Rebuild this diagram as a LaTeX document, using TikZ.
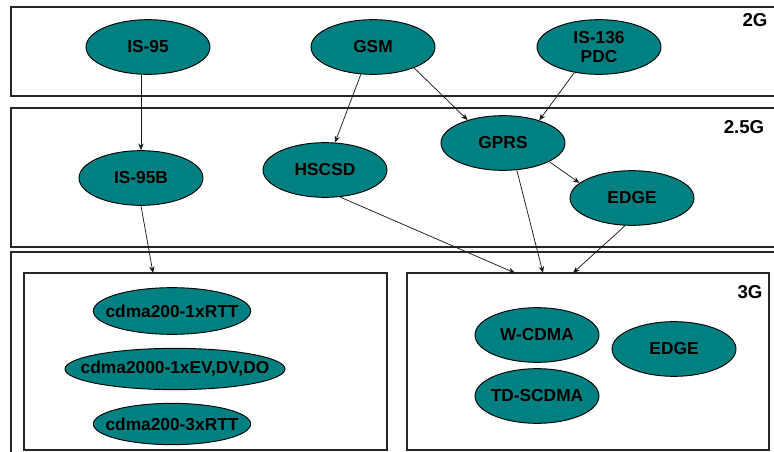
\documentclass[tikz,border=0pt]{standalone}
\usepackage{fontspec}
\setmainfont{Liberation Sans}
\usepackage{xcolor}
\usetikzlibrary{shapes.geometric,arrows.meta}

\definecolor{gsmteal}{RGB}{0,128,128}

\tikzset{
  tech/.style={ellipse, draw=black, fill=gsmteal, line width=0.7pt, inner xsep=-24pt, inner ysep=0pt,
    minimum width=93pt, minimum height=41pt, align=center, font=\fontsize{13}{14}\selectfont\bfseries},
  cdma/.style={tech, minimum width=118pt, minimum height=33pt},
  genbox/.style={draw=black!85, line width=0.9pt},
  genlabel/.style={inner sep=0.75pt, font=\fontsize{14}{15}\selectfont\bfseries},
  link/.style={draw=black!90, line width=0.55pt, -{Stealth[length=5pt,width=4pt]}}
}

\begin{document}
\begin{tikzpicture}[x=0.75pt,y=0.75pt,yscale=-1,xscale=1]
\clip (0,0) rectangle (774,452);

%Shape: Rectangle 2G
\draw [genbox] (11,7) rectangle (790,96) ;
%Shape: Rectangle 2.5G
\draw [genbox] (11,108) rectangle (790,247) ;
%Shape: Rectangle 3G outer
\draw [genbox] (11,252) rectangle (790,470) ;
%Shape: Rectangle cdma
\draw [genbox] (24,273) rectangle (387,450) ;
%Shape: Rectangle 3G
\draw [genbox] (407,273) rectangle (769,450) ;

% Text Node
\node [genlabel] (lab2g) at (755,20) {2G};
% Text Node
\node [genlabel] (lab25g) at (744,127) {2.5G};
% Text Node
\node [genlabel] (lab3g) at (750,292) {3G};

%Ellipses 2G
\node [tech] (is95) at (148,47) {IS-95};
\node [tech] (gsm) at (373,47) {GSM};
\node [tech] (is136) at (599,47) {IS-136\\PDC};
%Ellipses 2.5G
\node [tech] (is95b) at (141,178) {IS-95B};
\node [tech] (hscsd) at (325,170) {HSCSD};
\node [tech] (gprs) at (503,143) {GPRS};
\node [tech] (edge) at (632,198) {EDGE};
%Ellipses cdma
\node [cdma, minimum height=35pt] (rtt1) at (172,311) {cdma200-1xRTT};
\node [cdma, minimum width=165pt, minimum height=31pt] (evdo) at (175,369) {cdma2000-1xEV,DV,DO};
\node [cdma, minimum height=31pt] (rtt3) at (172,424) {cdma200-3xRTT};
%Ellipses 3G
\node [tech] (wcdma) at (537,335) {W-CDMA};
\node [tech] (tdscdma) at (537,396) {TD-SCDMA};
\node [tech] (edge3g) at (674,349) {EDGE};

%Box entry points
\coordinate (incdma) at (153,273);
\coordinate (in3ga) at (515,273);
\coordinate (in3gb) at (543,273);
\coordinate (in3gc) at (573,273);

%Straight Lines
\draw [link] (is95b |- is95.south) -- (is95b.north) ;
\draw [link] (gsm.-114) -- (hscsd.70) ;
\draw [link] (gsm.-27) -- (gprs.147) ;
\draw [link] (is136.226) -- (gprs.32) ;
\draw [link] (gprs.-22) -- (edge.164) ;
\draw [link] (is95b.south) -- (incdma) ;
\draw [link] (hscsd.-61) -- (in3ga) ;
\draw [link] (gprs.-63) -- (in3gb) ;
\draw [link] (edge.256) -- (in3gc) ;

\end{tikzpicture}
\end{document}
